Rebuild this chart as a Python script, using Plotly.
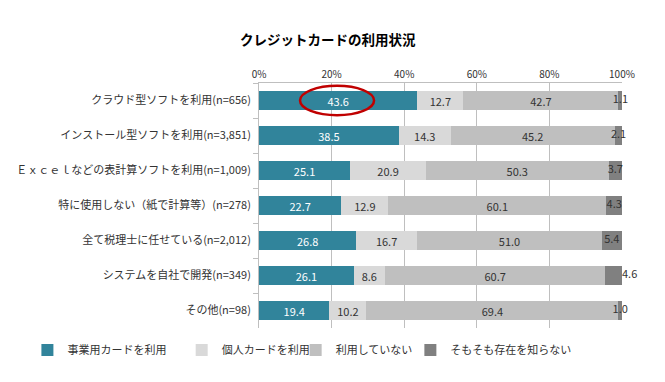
import plotly.graph_objects as go

categories = [
    "クラウド型ソフトを利用(n=656)",
    "インストール型ソフトを利用(n=3,851)",
    "Ｅｘｃｅｌなどの表計算ソフトを利用(n=1,009)",
    "特に使用しない（紙で計算等）(n=278)",
    "全て税理士に任せている(n=2,012)",
    "システムを自社で開発(n=349)",
    "その他(n=98)",
]
series_names = ["事業用カードを利用", "個人カードを利用", "利用していない", "そもそも存在を知らない"]
business = [43.6, 38.5, 25.1, 22.7, 26.8, 26.1, 19.4]
personal = [12.7, 14.3, 20.9, 12.9, 16.7, 8.6, 10.2]
not_used = [42.7, 45.2, 50.3, 60.1, 51.0, 60.7, 69.4]
unknown = [1.1, 2.1, 3.7, 4.3, 5.4, 4.6, 1.0]
tick_vals = [0, 20, 40, 60, 80, 100]
tick_text = ["0%", "20%", "40%", "60%", "80%", "100%"]
outside_label_rows = ["システムを自社で開発(n=349)"]

colors = ["#31849B", "#D9D9D9", "#BFBFBF", "#808080"]
text_colors = ["white", "#333333", "#333333", "#333333"]
font_family = "Noto Sans CJK JP, Noto Sans, sans-serif"
legend_x = [-0.638, -0.213, 0.101, 0.417]

fig = go.Figure()
all_series = [business, personal, not_used, unknown]
legend_ids = ["legend", "legend2", "legend3", "legend4"]
for i, (name, vals) in enumerate(zip(series_names, all_series)):
    fig.add_trace(go.Bar(
        y=categories, x=vals, name=name, orientation="h",
        marker=dict(color=colors[i], line=dict(width=0)),
        text=[f"{v:.1f}" for v in vals] if i < 3 else None,
        textposition="inside", textangle=0,
        insidetextanchor="middle",
        textfont=dict(color=text_colors[i], size=11, family=font_family),
        cliponaxis=False, hoverinfo="skip", legend=legend_ids[i],
    ))

# labels for the smallest segment
starts = [b + p + n for b, p, n in zip(business, personal, not_used)]
lab_x = []
lab_pos = []
for cat, s, u in zip(categories, starts, unknown):
    if cat in outside_label_rows:
        lab_x.append(s + u)
        lab_pos.append("middle right")
    else:
        lab_x.append(s + u / 2)
        lab_pos.append("middle center")
fig.add_trace(go.Scatter(
    x=lab_x, y=categories, mode="text", text=[f"{v:.1f}" for v in unknown],
    textposition=lab_pos, textfont=dict(color="#333333", size=11, family=font_family),
    showlegend=False, hoverinfo="skip", cliponaxis=False,
))

legend_common = dict(orientation="h", xanchor="left", y=-0.09, yanchor="middle",
                     font=dict(size=11), itemwidth=30, bgcolor="rgba(0,0,0,0)")
layout_legends = {}
for i, lid in enumerate(legend_ids):
    layout_legends[lid] = dict(legend_common, x=legend_x[i])

fig.update_layout(
    barmode="stack",
    bargap=0.48,
    width=665, height=382,
    margin=dict(l=251, r=51, t=75, b=62, autoexpand=False),
    paper_bgcolor="white", plot_bgcolor="white",
    font=dict(family=font_family, color="#333333", size=11),
    title=dict(text="<b>クレジットカードの利用状況</b>", x=0.481, xanchor="center",
               y=0.916, yanchor="middle", font=dict(size=13.5, color="black"),
               automargin=False),
    uniformtext=dict(mode="show", minsize=11),
    showlegend=True,
    **layout_legends,
)
fig.update_xaxes(
    side="top", range=[0, 100], tickvals=tick_vals, ticktext=tick_text,
    showgrid=True, gridcolor="#BFBFBF", gridwidth=1,
    showline=True, linecolor="#BFBFBF", linewidth=1,
    ticks="", tickfont=dict(size=10, color="#333333"), zeroline=False,
    automargin=False,
)
fig.update_yaxes(
    autorange="reversed", showline=True, linecolor="#BFBFBF", linewidth=1,
    ticks="outside", tickson="boundaries", ticklen=5, tickcolor="#BFBFBF",
    tickfont=dict(size=11, color="#333333"), ticksuffix="  ",
    automargin=False,
)
fig.add_shape(type="circle", xref="x", yref="y", x0=11.3, x1=31.7, y0=-0.42, y1=0.42,
              line=dict(color="#C00000", width=2.5))

fig.write_html("out.html")
